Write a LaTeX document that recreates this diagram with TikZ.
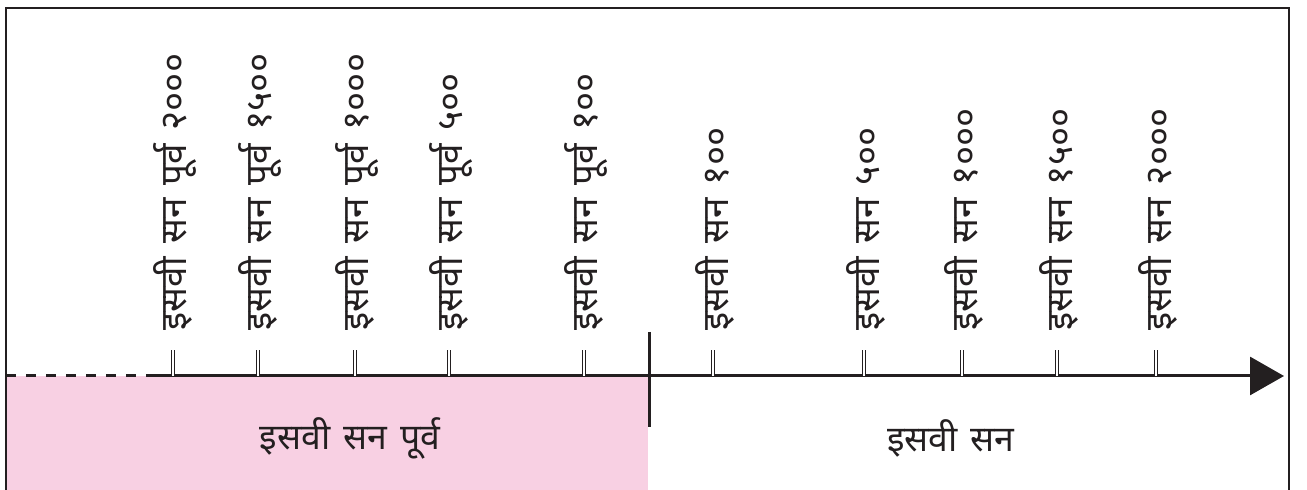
\documentclass[tikz,border=0pt]{standalone}
\usepackage{fontspec}
\newfontfamily\deva[Script=Devanagari]{Noto Sans}
\newfontfamily\devawide[Script=Devanagari,WordSpace=1.4]{Noto Sans}
\usetikzlibrary{arrows.meta}
\definecolor{bcepink}{RGB}{248,208,227}
\definecolor{lineblack}{RGB}{35,31,32}
\tikzset{
  yearlabel/.style={rotate=90, anchor=west, inner sep=0.75pt, text=lineblack, font=\devawide\fontsize{18.4}{20}\selectfont},
  eralabel/.style={inner sep=0.75pt, text=lineblack, font=\deva\fontsize{17.8}{20}\selectfont},
  tickmark/.style={draw=lineblack, double, double distance=0.9pt, line width=0.35pt},
}
\begin{document}
\begin{tikzpicture}[x=0.5pt,y=0.5pt,yscale=-1,xscale=1]
\useasboundingbox (0,0) rectangle (1307,490);

%Shapes: pink band under the BCE part
\fill [bcepink] (6,376) rectangle (648,490);
%Straight Lines: open frame
\draw [lineblack, line width=1.3pt] (6,490) -- (6,8) -- (1289,8) -- (1289,490);

%Coordinates of the axis
\coordinate (axisstart) at (6,376);
\coordinate (dashend) at (152,376);
\coordinate (axisend) at (1284,376);
\coordinate (eratop) at (649,332);
\coordinate (erabottom) at (649,427);

%Straight Lines: time axis
\draw [lineblack, line width=1.5pt, dash pattern=on 5pt off 5pt] (axisstart) -- (dashend);
\draw [lineblack, line width=1.5pt, -{Triangle[length=17pt,width=19pt]}] (dashend) -- (axisend);
%Straight Lines: era divider
\draw [lineblack, line width=1.5pt] (eratop) -- (erabottom);

%Ticks and year labels
\foreach \x/\yr [count=\i] in {173/{इसवी सन पूर्व २०००}, 258/{इसवी सन पूर्व १५००}, 355/{इसवी सन पूर्व १०००}, 449/{इसवी सन पूर्व ५००}, 584/{इसवी सन पूर्व १००}, 713/{इसवी सन १००}, 864/{इसवी सन ५००}, 962/{इसवी सन १०००}, 1057/{इसवी सन १५००}, 1156/{इसवी सन २०००}}{
  \coordinate (tick\i) at (\x,376);
  \draw [tickmark] (tick\i) -- ++(0,-26);
  \node [yearlabel] (year\i) at (\x+2,332) {\yr};
}

% Text Node
\node [eralabel] (bcelabel) at (350,438) {इसवी सन पूर्व};
% Text Node
\node [eralabel] (celabel) at (951,438) {इसवी सन};

\end{tikzpicture}
\end{document}
